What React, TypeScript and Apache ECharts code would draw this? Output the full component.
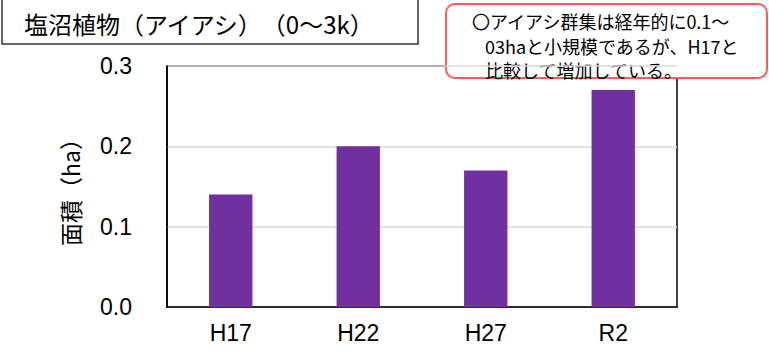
import React, { useEffect, useRef } from "react";
import * as echarts from "echarts";

const categories = ["H17", "H22", "H27", "R2"];
const areaValues = [0.14, 0.2, 0.17, 0.27];
const yTicks = [0, 0.1, 0.2, 0.3];
const titleText = "塩沼植物（アイアシ）　（0～3k）";
const noteLines = [
  "〇アイアシ群集は経年的に0.1～",
  "03haと小規模であるが、H17と",
  "比較して増加している。",
];

const FONT = "'Liberation Sans', Arial, 'Noto Sans CJK JP', sans-serif";
const JFONT = "'Noto Sans CJK JP', 'Liberation Sans', sans-serif";

export default function App() {
  const ref = useRef<HTMLDivElement>(null);
  useEffect(() => {
    document.body.style.margin = "0";
    if (!ref.current) return;
    const chart = echarts.init(ref.current, null, { renderer: "svg" });
    chart.setOption({
      animation: false,
      backgroundColor: "#fff",
      grid: {
        left: 167,
        right: 92,
        top: 66,
        bottom: 49,
        show: true,
        borderColor: "#000",
        borderWidth: 1.5,
        backgroundColor: "transparent",
      },
      xAxis: {
        type: "category",
        data: categories,
        axisLine: { show: true, lineStyle: { color: "#000", width: 1.5 } },
        axisTick: { show: false },
        axisLabel: { color: "#000", fontSize: 23, fontFamily: FONT, margin: 14 },
      },
      yAxis: {
        type: "value",
        min: yTicks[0],
        max: yTicks[yTicks.length - 1],
        interval: 0.1,
        name: "面積（ha）",
        nameLocation: "middle",
        nameGap: 86,
        nameTextStyle: { color: "#000", fontSize: 23, fontFamily: JFONT },
        axisLine: { show: true, lineStyle: { color: "#000", width: 1.5 } },
        axisTick: { show: false },
        splitLine: { show: true, lineStyle: { color: "#d9d9d9", width: 1.5 } },
        axisLabel: {
          color: "#000",
          fontSize: 23,
          fontFamily: FONT,
          margin: 35,
          formatter: (v: number) => v.toFixed(1),
        },
      },
      series: [
        {
          type: "bar",
          data: areaValues,
          barWidth: "34%",
          itemStyle: { color: "#7030A0" },
        },
      ],
      graphic: [
        {
          type: "rect",
          shape: { x: 2, y: -5, width: 416, height: 49 },
          style: { fill: "#fff", stroke: "#333", lineWidth: 1.5 },
        },
        {
          type: "text",
          x: 24,
          y: 23,
          style: {
            text: titleText,
            fontSize: 24,
            fontFamily: JFONT,
            fill: "#000",
            verticalAlign: "middle",
          },
        },
        {
          type: "rect",
          shape: { x: 446, y: 4, width: 321, height: 74, r: 9 },
          style: { fill: "#fff", stroke: "#ff5a5a", lineWidth: 2 },
        },
        ...noteLines.map((t, i) => ({
          type: "text",
          x: i === 0 ? 472 : 485,
          y: 21 + i * 24.5,
          style: {
            text: t,
            fontSize: 18,
            fontFamily: JFONT,
            fill: "#000",
            verticalAlign: "middle",
          },
        })),
      ],
    });
    return () => chart.dispose();
  }, []);
  return <div ref={ref} style={{ width: 769, height: 356 }} />;
}
